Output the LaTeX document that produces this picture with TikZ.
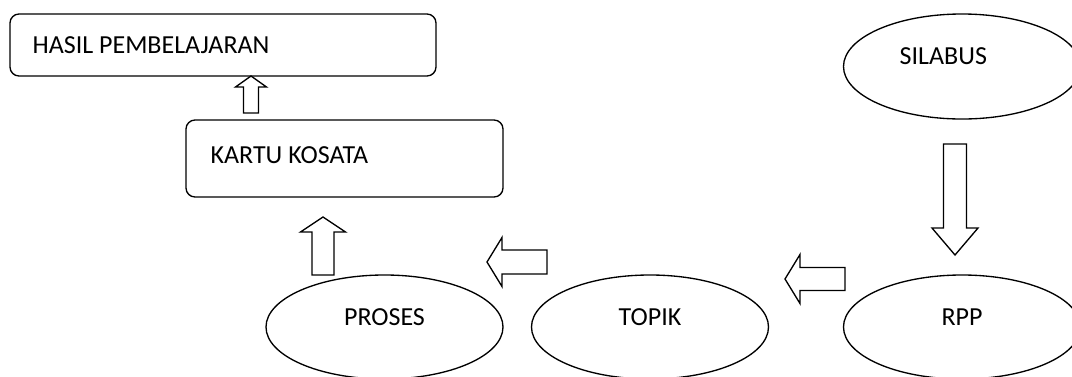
\documentclass[tikz,border=0pt]{standalone}
\usepackage{fontspec}
\setmainfont{Carlito}
\usetikzlibrary{shapes.geometric}
\newcommand\blkarrow[6]{%
  \draw[blk, shift={(#1)}, rotate=#2] (0,0) -- (-#6,#5) -- (-#6,#4) -- (-#3,#4)
    -- (-#3,-#4) -- (-#6,-#4) -- (-#6,-#5) -- cycle;}
\begin{document}
\begin{tikzpicture}[x=0.75pt, y=-0.75pt,
  every node/.style={font=\fontsize{19.5pt}{23pt}\selectfont},
  box/.style={draw, line width=1pt, rounded corners=6.75pt, inner sep=0pt},
  ell/.style={draw, ellipse, line width=1pt, inner sep=0pt,
    minimum width=177.75pt, minimum height=78pt},
  txtup/.style={yshift=7.5pt, inner sep=0pt},
  blk/.style={draw, line width=1pt, fill=white, line join=miter}]
\clip (0,0) rectangle (1072,376);
\fill[white] (0,0) rectangle (1072,376);
% boxes
\node[box, minimum width=319.5pt, minimum height=46.5pt,
  label={[anchor=west, inner sep=0pt, xshift=17.25pt]west:HASIL PEMBELAJARAN}]
  (hasil) at (223,45) {};
\node[box, minimum width=237.75pt, minimum height=57.75pt,
  label={[anchor=west, inner sep=0pt, xshift=18.75pt, yshift=2.6pt]west:KARTU KOSATA}]
  (kartu) at (344.5,158.5) {};
% ellipses
\node[ell, label={[txtup]center:PROSES}] (proses) at (384.5,327) {};
\node[ell, label={[txtup]center:TOPIK}] (topik) at (650,327) {};
\node[ell, label={[txtup]center:RPP}] (rpp) at (962,327) {};
\node[ell, minimum height=78.75pt,
  label={[txtup, xshift=-14pt]center:SILABUS}] (silabus) at (962,66.5) {};
% block arrows (tip, direction, length, shaft half width, head half width, head length)
\coordinate (tA) at (251,76);
\coordinate (tB) at (323,217);
\coordinate (tC) at (487,262);
\coordinate (tD) at (785,279);
\coordinate (tE) at (955,255);
\blkarrow{tA}{90}{37}{7.5}{15.5}{11}
\blkarrow{tB}{90}{58}{11}{22.5}{15}
\blkarrow{tC}{180}{60}{12}{24.5}{15}
\blkarrow{tD}{180}{60}{11.5}{24.5}{15}
\blkarrow{tE}{270}{111}{11.5}{23}{27}
\end{tikzpicture}
\end{document}
